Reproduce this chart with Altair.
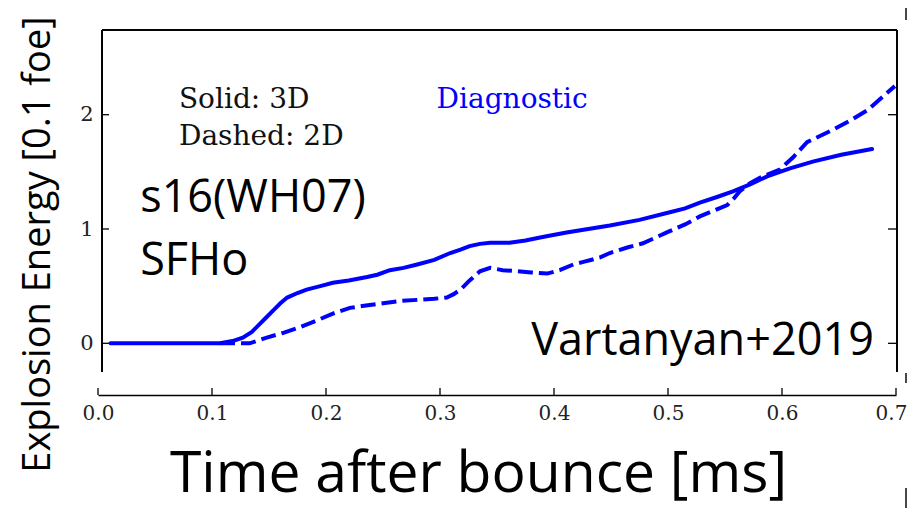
import altair as alt
import pandas as pd

# ---- data ----
t_3d = [0.011, 0.05, 0.09, 0.107, 0.118, 0.127, 0.135, 0.142, 0.148, 0.154, 0.160, 0.166,
        0.175, 0.183, 0.195, 0.206, 0.220, 0.236, 0.245, 0.256, 0.268, 0.280, 0.295, 0.309,
        0.318, 0.326, 0.335, 0.344, 0.361, 0.375, 0.390, 0.411, 0.430, 0.449, 0.475, 0.499,
        0.515, 0.528, 0.543, 0.557, 0.572, 0.587, 0.607, 0.627, 0.652, 0.679]
e_3d = [0.0, 0.0, 0.0, 0.0, 0.02, 0.05, 0.10, 0.17, 0.23, 0.29, 0.35, 0.40,
        0.44, 0.47, 0.50, 0.53, 0.55, 0.58, 0.60, 0.64, 0.66, 0.69, 0.73, 0.79,
        0.82, 0.85, 0.87, 0.88, 0.88, 0.90, 0.93, 0.97, 1.00, 1.03, 1.08, 1.14,
        1.18, 1.23, 1.28, 1.33, 1.39, 1.46, 1.53, 1.59, 1.65, 1.70]

t_2d = [0.107, 0.120, 0.133, 0.148, 0.162, 0.177, 0.192, 0.206, 0.221, 0.235, 0.250, 0.265,
        0.280, 0.295, 0.306, 0.312, 0.318, 0.326, 0.335, 0.344, 0.355, 0.368, 0.380, 0.394,
        0.405, 0.417, 0.425, 0.440, 0.449, 0.465, 0.478, 0.499, 0.515, 0.528, 0.552, 0.558,
        0.563, 0.572, 0.581, 0.598, 0.610, 0.622, 0.645, 0.660, 0.675, 0.699]
e_2d = [0.0, 0.0, 0.0, 0.05, 0.09, 0.14, 0.20, 0.26, 0.31, 0.33, 0.35, 0.37,
        0.38, 0.39, 0.40, 0.43, 0.47, 0.55, 0.63, 0.66, 0.64, 0.63, 0.62, 0.61,
        0.64, 0.69, 0.71, 0.75, 0.79, 0.84, 0.875, 0.97, 1.04, 1.11, 1.21, 1.27,
        1.33, 1.40, 1.45, 1.52, 1.63, 1.76, 1.87, 1.95, 2.04, 2.25]

x_ticks = [0.0, 0.1, 0.2, 0.3, 0.4, 0.5, 0.6, 0.7]
y_ticks = [0, 1, 2]

sans_labels = ["s16(WH07)", "SFHo", "Vartanyan+2019"]
sans_x = [0.037, 0.037, 0.380]
sans_y = [1.149, 0.598, -0.102]

serif_labels = ["Solid: 3D", "Dashed: 2D"]
serif_x = [0.071, 0.071]
serif_y = [2.061, 1.734]

blue_labels = ["Diagnostic"]
blue_x = [0.297]
blue_y = [2.061]

# ---- chart ----
W, H = 798, 342
BLUE = "#0000ff"

x_enc = alt.X(
    "t:Q",
    scale=alt.Scale(domain=[0, 0.7], nice=False, zero=False),
    axis=alt.Axis(
        title="Time after bounce [ms]", values=x_ticks, format=".1f", offset=23,
        domain=True, domainColor="black", domainWidth=1.5, ticks=False, grid=False,
        labelFont="DejaVu Serif", labelFontSize=20, labelColor="#222222",
        labelPadding=8, labelFlush=False,
        labelOffset={"condition": {"test": "datum.value >= 0.69", "value": -5}, "value": 0},
        titleFont="Open Sans", titleFontSize=57, titleFontWeight="normal",
        titleColor="black", titleX=380, titleY=96, titleAlign="center",
        titleBaseline="alphabetic",
    ),
)
y_enc = alt.Y(
    "e:Q",
    scale=alt.Scale(domain=[-0.251, 2.741], nice=False, zero=False),
    axis=alt.Axis(
        title="Explosion Energy [0.1 foe]", values=y_ticks, format="d",
        domain=False, ticks=False, grid=False,
        labelFont="DejaVu Serif", labelFontSize=21, labelColor="#222222",
        labelPadding=5,
        titleFont="Open Sans", titleFontSize=38, titleFontWeight="normal",
        titleColor="black", titleX=-49, titleY=214, titleAngle=270,
        titleAlign="center", titleBaseline="alphabetic",
    ),
)

df3 = pd.DataFrame({"t": t_3d, "e": e_3d})
df2 = pd.DataFrame({"t": t_2d, "e": e_2d})

solid = alt.Chart(df3).mark_line(color=BLUE, strokeWidth=4, strokeCap="round").encode(x=x_enc, y=y_enc)
dashed = alt.Chart(df2).mark_line(color=BLUE, strokeWidth=4, strokeDash=[15, 6]).encode(x=x_enc, y=y_enc)

df_yt = pd.DataFrame({"e": y_ticks})
df_xt = pd.DataFrame({"t": x_ticks})

left_ticks = alt.Chart(df_yt).mark_rule(color="black", strokeWidth=1.3).encode(
    y=y_enc, x=alt.value(4), x2=alt.value(11))
right_ticks = alt.Chart(df_yt).mark_rule(color="black", strokeWidth=1.3).encode(
    y=y_enc, x=alt.value(W - 8), x2=alt.value(W + 1))
bottom_ticks = alt.Chart(df_xt).mark_rule(color="black", strokeWidth=1.3).encode(
    x=x_enc, y=alt.value(H + 16), y2=alt.value(H + 23))

left_spine = alt.Chart(df_yt).mark_rule(color="black", strokeWidth=1.5).encode(
    x=alt.value(4), y=alt.value(0), y2=alt.value(H))
right_spine = alt.Chart(df_yt).mark_rule(color="black", strokeWidth=1.5).encode(
    x=alt.value(W + 1), y=alt.value(0), y2=alt.value(H))
top_spine = alt.Chart(df_yt).mark_rule(color="black", strokeWidth=1.5).encode(
    y=alt.value(0), x=alt.value(4), x2=alt.value(W + 1))

# small stray edge marks visible at the right border of the reference crop
edge1 = alt.Chart(df_yt).mark_rule(color="#444444", strokeWidth=1.5).encode(
    x=alt.value(W + 10), y=alt.value(-22), y2=alt.value(-10))
edge2 = alt.Chart(df_yt).mark_rule(color="#444444", strokeWidth=1.5).encode(
    x=alt.value(W + 10), y=alt.value(H + 1), y2=alt.value(H + 11))
edge3 = alt.Chart(df_yt).mark_rule(color="#444444", strokeWidth=1.5).encode(
    x=alt.value(W + 10), y=alt.value(H + 116), y2=alt.value(H + 136))

sans_df = pd.DataFrame({"t": sans_x, "e": sans_y, "label": sans_labels})
serif_df = pd.DataFrame({"t": serif_x, "e": serif_y, "label": serif_labels})
blue_df = pd.DataFrame({"t": blue_x, "e": blue_y, "label": blue_labels})

sans_text = alt.Chart(sans_df).mark_text(
    font="Open Sans", fontSize=45, align="left", baseline="alphabetic", color="black"
).encode(x=x_enc, y=y_enc, text="label:N")
serif_text = alt.Chart(serif_df).mark_text(
    font="DejaVu Serif", fontSize=28, align="left", baseline="alphabetic", color="#111111"
).encode(x=x_enc, y=y_enc, text="label:N")
blue_text = alt.Chart(blue_df).mark_text(
    font="DejaVu Serif", fontSize=28, align="left", baseline="alphabetic", color=BLUE
).encode(x=x_enc, y=y_enc, text="label:N")

chart = alt.layer(
    left_spine, right_spine, top_spine, left_ticks, right_ticks, bottom_ticks,
    edge1, edge2, edge3,
    dashed, solid, sans_text, serif_text, blue_text,
).properties(
    width=W, height=H,
    padding={"left": 90, "top": 22, "right": 12, "bottom": 136},
    autosize=alt.AutoSizeParams(type="none"),
    background="white",
).configure_view(stroke=None)

chart.save("out.html", embed_options={"renderer": "svg", "actions": False})
